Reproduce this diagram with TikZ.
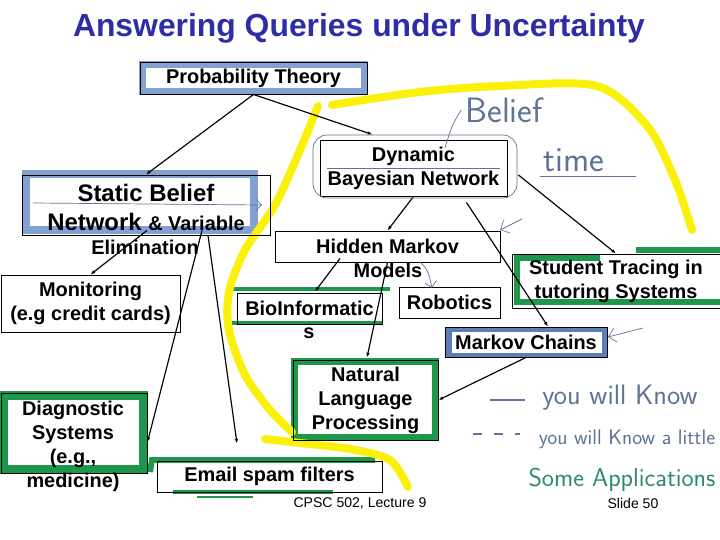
\documentclass[tikz,border=0pt]{standalone}
\usepackage{fontspec}
\setmainfont{Liberation Sans}
\usetikzlibrary{arrows.meta}
\definecolor{titleblue}{RGB}{45,45,165}
\definecolor{bandblue}{RGB}{130,160,210}
\definecolor{chainblue}{RGB}{95,125,185}
\definecolor{bandgreen}{RGB}{30,150,75}
\definecolor{hiyellow}{RGB}{250,240,10}
\definecolor{inkblue}{RGB}{95,115,150}
\definecolor{inkgreen}{RGB}{45,140,100}
\pgfdeclarelayer{background}
\pgfsetlayers{background,main}
\newcommand{\bxfont}{\fontsize{17}{20.5}\selectfont\bfseries}
\newcommand{\bigbxfont}{\fontsize{20.4}{24}\selectfont\bfseries}
\newcommand{\handfont}{\sffamily}

\begin{document}
\begin{tikzpicture}[x=0.03cm, y=-0.03cm,
    box/.style={draw, line width=0.8pt, inner sep=0pt, align=center, font=\bxfont},
    boxtext/.style={font=\bxfont, align=center},
    link/.style={line width=1pt, -{Latex[length=4pt,width=3pt]}},
    blueband/.style={draw=bandblue, line width=5.5pt},
    greenband/.style={draw=bandgreen, line width=5.5pt},
    marker/.style={draw=hiyellow, line width=6.8pt, line cap=round, line join=round},
    ink/.style={draw=inkblue, line width=0.6pt},
    hand/.style={font=\handfont, text=inkblue}]
    \useasboundingbox (0,0) rectangle (720,540);

    % Title
    \node[font=\fontsize{27.2}{30}\selectfont\bfseries, text=titleblue] (title) at (359,28)
        {Answering Queries under Uncertainty};

    % Probability Theory (blue)
    \node[box, minimum width=6.81cm, minimum height=0.96cm] (prob) at (253.5,78) {Probability Theory};

    % Static Belief Network (blue)
    \node[box, minimum width=7.44cm, minimum height=1.8cm] (static) at (146,205) {};
    \node[font=\bigbxfont] (staticA) at (146,193) {Static Belief};
    \node[font=\bigbxfont] (staticB) at (146,222) {Network {\bxfont\& Variable}};
    \node[boxtext] (staticC) at (145,247) {Elimination};

    % Dynamic Bayesian Network
    \node[box, minimum width=5.61cm, minimum height=1.68cm] (dbn) at (413.5,168)
        {Dynamic\\Bayesian Network};

    % Hidden Markov Models
    \node[box, minimum width=6.75cm, minimum height=0.93cm] (hmm) at (387.5,246.5) {Hidden Markov};
    \node[boxtext] (hmmB) at (388,270) {Models};

    % Student Tracing (green)
    \node[box, minimum width=6.24cm, minimum height=1.62cm] (stud) at (616,281)
        {Student Tracing in\\tutoring Systems};

    % Monitoring
    \node[box, minimum width=5.37cm, minimum height=1.71cm] (mon) at (90.5,303.5)
        {Monitoring\\(e.g credit cards)};

    % BioInformatics (green)
    \node[box, minimum width=4.35cm, minimum height=0.93cm] (bio) at (309.5,308.5) {BioInformatic};
    \node[boxtext] (bioB) at (309,333) {s};

    % Robotics
    \node[box, minimum width=3.03cm, minimum height=0.93cm] (rob) at (449.5,302.5) {Robotics};

    % Markov Chains (blue)
    \node[box, minimum width=4.86cm, minimum height=0.9cm] (mc) at (526,342) {Markov Chains};

    % Natural Language Processing (green)
    \node[box, minimum width=4.35cm, minimum height=2.4cm] (nlp) at (365.5,400)
        {Natural\\Language\\Processing};

    % Diagnostic Systems (green)
    \node[box, minimum width=4.38cm, minimum height=2.4cm] (diag) at (74,433) {};
    \node[boxtext] (diagB) at (73,446) {Diagnostic\\Systems\\(e.g.,\\medicine)};

    % Email spam filters (green)
    \node[box, minimum width=6.75cm, minimum height=0.93cm] (email) at (269.5,476.5) {Email spam filters};

    % Connectors
    \draw[link] (prob.south) -- (static.north);
    \draw[link] (prob.south) -- ([shift={(-41,-5)}]dbn.north);
    \draw[link] (dbn.south) -- (hmm.north);
    \draw[link] ([shift={(53,6)}]dbn.south) -- ([shift={(22,0)}]mc.north);
    \draw[link] ([shift={(11,7)}]dbn.east) -- (stud.north);
    \draw[link] ([shift={(1,-5)}]static.south) -- (mon.north);
    \draw[link] ([shift={(56,-5)}]static.south) -- ([shift={(0,9)}]diag.east);
    \draw[link] ([shift={(62,0)}]static.south) -- ([shift={(-32.5,-17)}]email.north);
    \draw[link] ([shift={(-47.5,-4)}]hmm.south) -- ([shift={(5.5,-1)}]bio.north);
    \draw[link] (hmm.south) -- ([shift={(1.5,-2)}]nlp.north);
    \draw[link] (mc.south) -- (nlp.east);

    % Footer
    \node[font=\fontsize{12}{14}\selectfont] (cpsc) at (360,503) {CPSC 502, Lecture 9};
    \node[font=\fontsize{12}{14}\selectfont] (slide) at (633,503) {Slide 50};

    % Handwritten notes
    \node[hand, font=\handfont\fontsize{30}{32}\selectfont] (belief) at (504,110) {Belief};
    \node[hand, font=\handfont\fontsize{30}{32}\selectfont] (time) at (574,160) {time};
    \draw[ink] (540,176) -- (636,176);
    \draw[ink] (belief.west) .. controls (452,125) .. (445,148);
    \draw[ink, rounded corners=12pt] (313,135) rectangle (517,198);
    \draw[ink] (327,168) -- (500,168);
    \draw[ink, -{Straight Barb[length=5pt]}] (33,203) -- (262,205);
    \draw[ink, -{Straight Barb[length=6pt]}] (522,219) -- (500,230);
    \draw[ink, -{Straight Barb[length=6pt]}] (643,328) -- (608,337);
    \draw[ink, -{Straight Barb[length=5pt]}] (420,262) .. controls (428,270) .. (432,288);

    % Legend
    \draw[inkblue, line width=1pt] (490,400) -- (525,400);
    \node[hand, font=\handfont\fontsize{24}{26}\selectfont] (know) at (620,398) {you will Know};
    \draw[inkblue, line width=1pt, dash pattern=on 8pt off 10pt] (473,434) -- (520,434);
    \node[hand, font=\handfont\fontsize{18}{20}\selectfont] (little) at (627,439) {you will Know a little};
    \node[hand, text=inkgreen, font=\handfont\fontsize{22}{24}\selectfont] (apps) at (622,480) {Some Applications};

    % Bands and highlights behind the boxes
    \begin{pgfonlayer}{background}
        \fill[white] (0,0) rectangle (720,540);
        \draw[blueband] ([shift={(3,3)}]prob.north west) rectangle ([shift={(-3,-3)}]prob.south east);
        \draw[blueband, line width=7pt] (26,174) rectangle (254,230);
        \fill[chainblue] (mc.north west) rectangle (mc.south east);
        \fill[white] ([shift={(7,5)}]mc.north west) rectangle ([shift={(-5,-4)}]mc.south east);
        \draw[greenband, line width=6pt] ([shift={(2,2)}]nlp.north west) rectangle ([shift={(-3,-3)}]nlp.south east);
        \draw[greenband, line width=7pt] ([shift={(3,3)}]diag.north west) rectangle ([shift={(-4,-4)}]diag.south east);
        \draw[greenband, line width=5pt] (150,472) -- (152,460) -- (375,460);
        \draw[greenband, line width=3.5pt] (173,492) -- (333,492);
        \draw[greenband, line width=2.5pt] (197,497) -- (253,497);
        \draw[greenband, line width=3pt] (232,289) -- (390,289);
        \draw[greenband, line width=3pt] (226,323) -- (383,323);
        \draw[greenband, line width=5pt] (636,250) -- (720,250);
        \draw[greenband, line width=5pt] (600,258) -- (517,258) -- (517,302) -- (720,302);
        \draw[marker] plot[smooth] coordinates {(332,105) (420,92) (500,86) (597,86) (648,127) (675,180) (692,230)};
        \draw[marker] plot[smooth] coordinates {(318,106) (300,150) (275,205) (245,250) (229,292) (229,330) (245,375) (270,410) (292,432)};
        \draw[marker] plot[smooth] coordinates {(265,439) (300,443) (350,449) (390,460) (408,487)};
    \end{pgfonlayer}
\end{tikzpicture}
\end{document}
